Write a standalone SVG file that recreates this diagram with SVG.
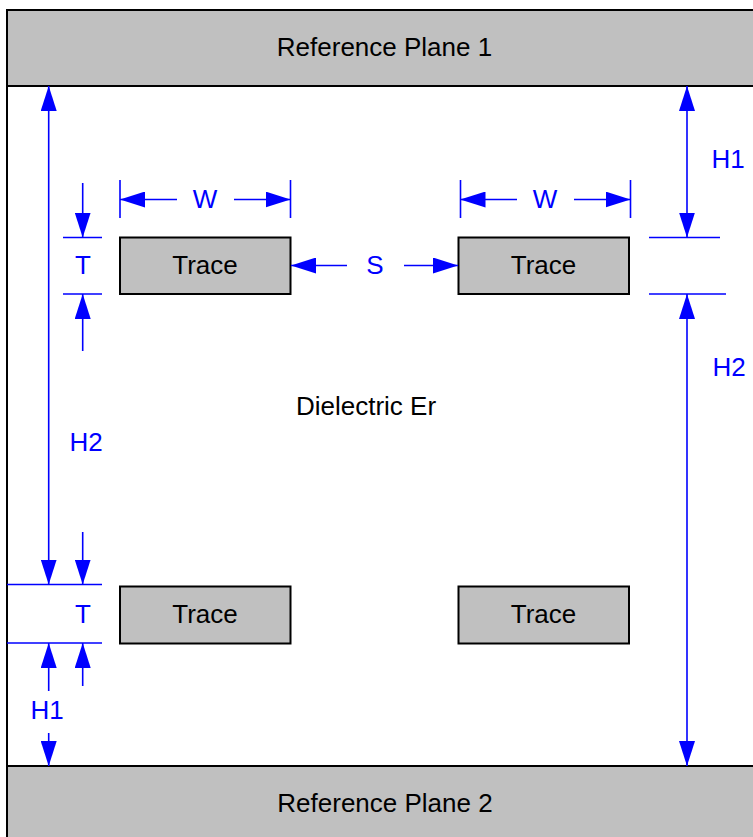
<svg xmlns="http://www.w3.org/2000/svg" width="753" height="837" viewBox="0 0 753 837">
<style>
.plane{fill:#c0c0c0;stroke:#000;stroke-width:2}
.trace{fill:#c0c0c0;stroke:#000;stroke-width:2}
.lbl{font-family:"Liberation Sans",Arial,sans-serif;font-size:26px;fill:#000;text-anchor:middle}
.dim{font-family:"Liberation Sans",Arial,sans-serif;font-size:26px;fill:#0000ff;text-anchor:middle}
.d{stroke:#0000ff;stroke-width:1.6;fill:none}
.a{stroke:#0000ff;stroke-width:1.6;fill:none;marker-end:url(#ah)}
.aa{stroke:#0000ff;stroke-width:1.6;fill:none;marker-start:url(#ah);marker-end:url(#ah)}
</style>
<defs>
<marker id="ah" viewBox="0 0 25 16" refX="25" refY="8" markerWidth="25" markerHeight="16" markerUnits="userSpaceOnUse" orient="auto-start-reverse">
<path d="M0,0 L25,8 L0,16 z" fill="#0000ff"/>
</marker>
</defs>
<rect x="0" y="0" width="753" height="837" fill="#fff"/>
<line x1="7" y1="10" x2="7" y2="837" stroke="#000" stroke-width="2"/>
<g id="plane1">
<rect class="plane" x="7" y="10" width="760" height="76"/>
<text class="lbl" x="384.5" y="56">Reference Plane 1</text>
</g>
<g id="plane2">
<rect class="plane" x="7" y="766" width="760" height="90"/>
<text class="lbl" x="385" y="812">Reference Plane 2</text>
</g>
<g id="dielectric">
<text class="lbl" x="366" y="415">Dielectric Er</text>
</g>
<g id="trace1">
<rect class="trace" x="120" y="237.5" width="170.5" height="56.5"/>
<text class="lbl" x="205" y="274">Trace</text>
</g>
<g id="trace2">
<rect class="trace" x="458.5" y="237.5" width="170.5" height="56.5"/>
<text class="lbl" x="543.5" y="274">Trace</text>
</g>
<g id="trace3">
<rect class="trace" x="120" y="586.5" width="170.5" height="57"/>
<text class="lbl" x="205" y="623">Trace</text>
</g>
<g id="trace4">
<rect class="trace" x="458.5" y="586.5" width="170.5" height="57"/>
<text class="lbl" x="543.5" y="623">Trace</text>
</g>
<g id="connectors">
<!-- left long H2 -->
<line class="aa" x1="48.7" y1="86" x2="48.7" y2="584.5"/>
<!-- top-left T -->
<line class="a" x1="82.7" y1="183" x2="82.7" y2="237.5"/>
<line class="d" x1="63" y1="237.5" x2="102" y2="237.5"/>
<line class="d" x1="63" y1="294" x2="102" y2="294"/>
<line class="a" x1="82.7" y1="351" x2="82.7" y2="294"/>
<!-- W left -->
<line class="d" x1="120" y1="180" x2="120" y2="218"/>
<line class="d" x1="290.5" y1="180" x2="290.5" y2="218"/>
<line class="a" x1="177" y1="199.5" x2="120" y2="199.5"/>
<line class="a" x1="234" y1="199.5" x2="290.5" y2="199.5"/>
<!-- W right -->
<line class="d" x1="460.5" y1="180" x2="460.5" y2="218"/>
<line class="d" x1="630.5" y1="180" x2="630.5" y2="218"/>
<line class="a" x1="517" y1="199.5" x2="460.5" y2="199.5"/>
<line class="a" x1="574" y1="199.5" x2="630.5" y2="199.5"/>
<!-- S -->
<line class="a" x1="347" y1="265.5" x2="291" y2="265.5"/>
<line class="a" x1="404" y1="265.5" x2="458" y2="265.5"/>
<!-- right H1 / H2 -->
<line class="aa" x1="687" y1="86" x2="687" y2="237.5"/>
<line class="d" x1="649" y1="237.5" x2="720" y2="237.5"/>
<line class="d" x1="649" y1="294" x2="726" y2="294"/>
<line class="aa" x1="687" y1="294" x2="687" y2="766"/>
<!-- bottom-left T / H1 -->
<line class="d" x1="7" y1="584.5" x2="102" y2="584.5"/>
<line class="d" x1="7" y1="643" x2="102" y2="643"/>
<line class="a" x1="82.7" y1="532" x2="82.7" y2="584.5"/>
<line class="a" x1="48.7" y1="691" x2="48.7" y2="643"/>
<line class="a" x1="82.7" y1="686" x2="82.7" y2="643"/>
<line class="a" x1="48.7" y1="733" x2="48.7" y2="766"/>
</g>
<g id="labels">
<text class="dim" x="205" y="208">W</text>
<text class="dim" x="545" y="208">W</text>
<text class="dim" x="375" y="274">S</text>
<text class="dim" x="83" y="274">T</text>
<text class="dim" x="83" y="623">T</text>
<text class="dim" x="728" y="168">H1</text>
<text class="dim" x="729" y="376">H2</text>
<text class="dim" x="86" y="451">H2</text>
<text class="dim" x="47" y="719">H1</text>
</g>
</svg>
